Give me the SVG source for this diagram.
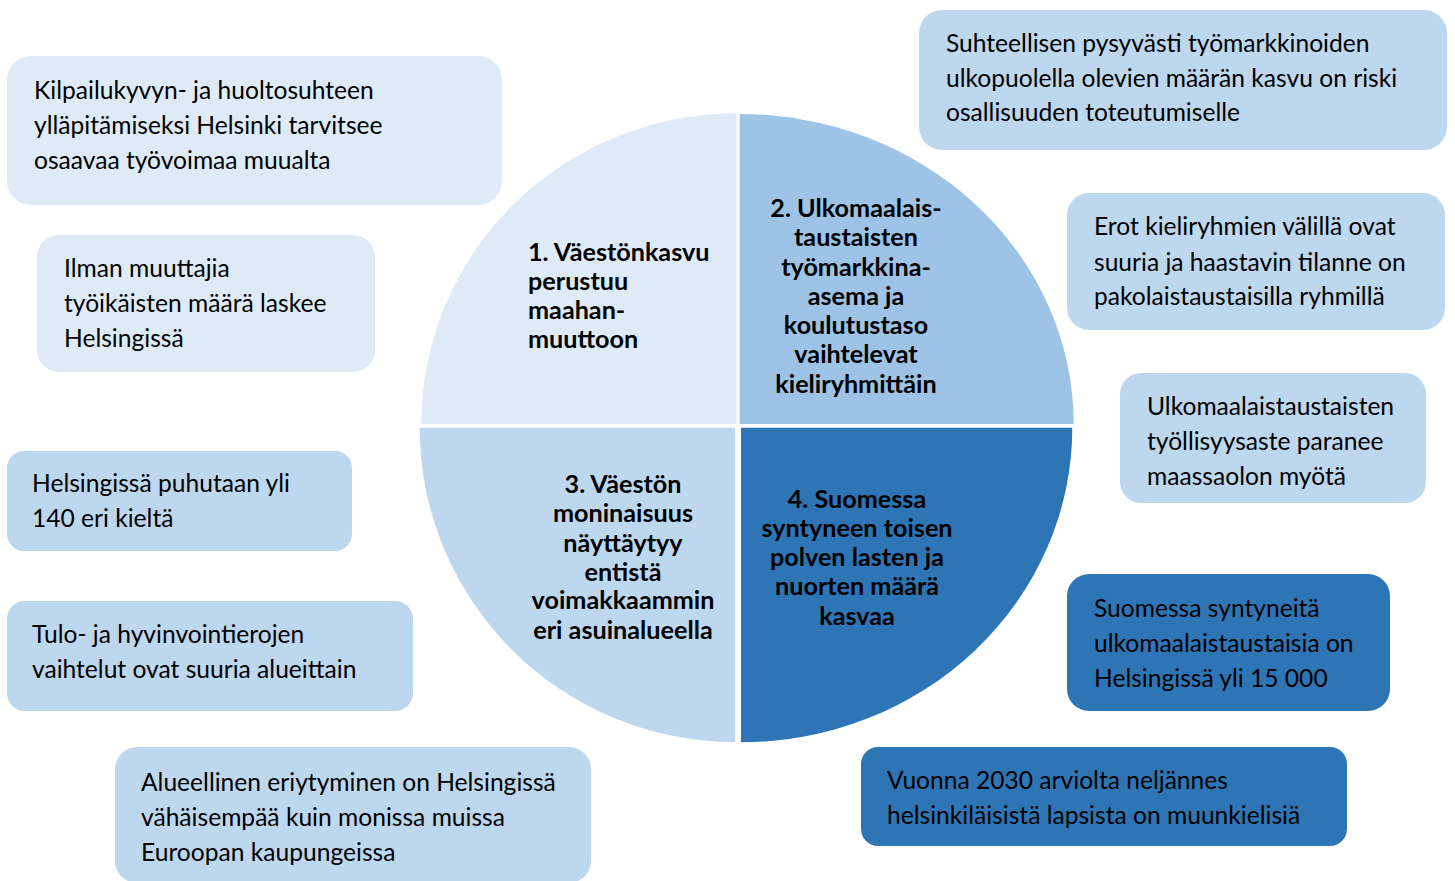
<svg xmlns="http://www.w3.org/2000/svg" width="1455" height="881" viewBox="0 0 1455 881">
<style>
.t{font-family:Lato,"Liberation Sans",sans-serif;font-size:24.6px;fill:#000}
.b{font-family:Lato,"Liberation Sans",sans-serif;font-size:25.2px;font-weight:bold;fill:#000}
.c{text-anchor:middle}
.l1{fill:#DEEBF7}
.l2{fill:#BDD7EE}
.m{fill:#9DC3E6}
.d{fill:#2E75B6}
</style>
<rect width="1455" height="881" fill="#fff"/>
<g id="quadrants">
<g id="q1"><path class="l1" d="M736.5,424 L421.3,424 A315.2,310.7 0 0 1 736.5,113.3 Z"/>
<text class="b" x="528" y="261">1. Väestönkasvu</text><text class="b" x="528" y="290">perustuu</text><text class="b" x="528" y="319">maahan-</text><text class="b" x="528" y="348">muuttoon</text></g>
<g id="q2"><path class="m" d="M739.7,424 L739.7,114 A334,310 0 0 1 1073.7,424 Z"/>
<text class="b c" x="856" y="217">2. Ulkomaalais-</text><text class="b c" x="856" y="246">taustaisten</text><text class="b c" x="856" y="276">työmarkkina-</text><text class="b c" x="856" y="305">asema ja</text><text class="b c" x="856" y="334">koulutustaso</text><text class="b c" x="856" y="363">vaihtelevat</text><text class="b c" x="856" y="393">kieliryhmittäin</text></g>
<g id="q3"><path class="l2" d="M735,427.7 L735,742 A315.3,314.3 0 0 1 419.7,427.7 Z"/>
<text class="b c" x="623" y="493">3. Väestön</text><text class="b c" x="623" y="522">moninaisuus</text><text class="b c" x="623" y="552">näyttäytyy</text><text class="b c" x="623" y="581">entistä</text><text class="b c" x="623" y="609">voimakkaammin</text><text class="b c" x="623" y="639">eri asuinalueella</text></g>
<g id="q4"><path class="d" d="M741,427.7 L1072.3,427.7 A331.3,314.6 0 0 1 741,742.3 Z"/>
<text class="b c" x="857" y="508">4. Suomessa</text><text class="b c" x="857" y="537">syntyneen toisen</text><text class="b c" x="857" y="566">polven lasten ja</text><text class="b c" x="857" y="595">nuorten määrä</text><text class="b c" x="857" y="625">kasvaa</text></g>
</g>
<g id="connectors"></g>
<g id="boxA"><rect class="l1" x="7" y="56" width="495" height="149" rx="24"/>
<text class="t" x="34" y="99">Kilpailukyvyn- ja huoltosuhteen</text><text class="t" x="34" y="134">ylläpitämiseksi Helsinki tarvitsee</text><text class="t" x="34" y="169">osaavaa työvoimaa muualta</text></g>
<g id="boxB"><rect class="l1" x="37" y="235" width="338" height="137" rx="22"/>
<text class="t" x="64" y="277">Ilman muuttajia</text><text class="t" x="64" y="312">työikäisten määrä laskee</text><text class="t" x="64" y="347">Helsingissä</text></g>
<g id="boxC"><rect class="l2" x="919" y="10" width="528" height="140" rx="23"/>
<text class="t" x="946" y="52">Suhteellisen pysyvästi työmarkkinoiden</text><text class="t" x="946" y="87">ulkopuolella olevien määrän kasvu on riski</text><text class="t" x="946" y="121">osallisuuden toteutumiselle</text></g>
<g id="boxD"><rect class="l2" x="1067" y="193" width="378" height="137" rx="22"/>
<text class="t" x="1094" y="235">Erot kieliryhmien välillä ovat</text><text class="t" x="1094" y="271">suuria ja haastavin tilanne on</text><text class="t" x="1094" y="305">pakolaistaustaisilla ryhmillä</text></g>
<g id="boxE"><rect class="l2" x="1120" y="373" width="306" height="130" rx="21"/>
<text class="t" x="1147" y="415">Ulkomaalaistaustaisten</text><text class="t" x="1147" y="450">työllisyysaste paranee</text><text class="t" x="1147" y="485">maassaolon myötä</text></g>
<g id="boxF"><rect class="d" x="1067" y="574" width="323" height="137" rx="22"/>
<text class="t" x="1094" y="617">Suomessa syntyneitä</text><text class="t" x="1094" y="652">ulkomaalaistaustaisia on</text><text class="t" x="1094" y="687">Helsingissä yli 15 000</text></g>
<g id="boxG"><rect class="d" x="861" y="747" width="486" height="99" rx="17"/>
<text class="t" x="887" y="789">Vuonna 2030 arviolta neljännes</text><text class="t" x="887" y="824">helsinkiläisistä lapsista on muunkielisiä</text></g>
<g id="boxH"><rect class="l2" x="7" y="451" width="345" height="100" rx="17"/>
<text class="t" x="32" y="492">Helsingissä puhutaan yli</text><text class="t" x="32" y="527">140 eri kieltä</text></g>
<g id="boxI"><rect class="l2" x="7" y="601" width="406" height="110" rx="18"/>
<text class="t" x="32" y="643">Tulo- ja hyvinvointierojen</text><text class="t" x="32" y="678">vaihtelut ovat suuria alueittain</text></g>
<g id="boxJ"><rect class="l2" x="115" y="747" width="476" height="136" rx="22"/>
<text class="t" x="141" y="791">Alueellinen eriytyminen on Helsingissä</text><text class="t" x="141" y="826">vähäisempää kuin monissa muissa</text><text class="t" x="141" y="861">Euroopan kaupungeissa</text></g>
</svg>
